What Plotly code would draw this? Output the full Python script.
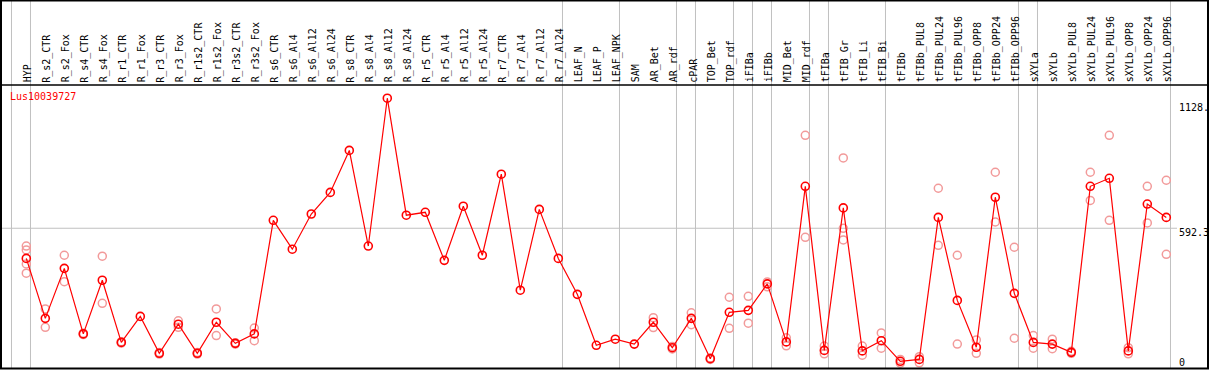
import plotly.graph_objects as go

categories = ["HYP", "R_s2_CTR", "R_s2_Fox", "R_s4_CTR", "R_s4_Fox", "R_r1_CTR", "R_r1_Fox",
              "R_r3_CTR", "R_r3_Fox", "R_r1s2_CTR", "R_r1s2_Fox", "R_r3s2_CTR", "R_r3s2_Fox",
              "R_s6_CTR", "R_s6_Al4", "R_s6_Al12", "R_s6_Al24", "R_s8_CTR", "R_s8_Al4", "R_s8_Al12",
              "R_s8_Al24", "R_r5_CTR", "R_r5_Al4", "R_r5_Al12", "R_r5_Al24", "R_r7_CTR", "R_r7_Al4",
              "R_r7_Al12", "R_r7_Al24", "LEAF_N", "LEAF_P", "LEAF_NPK", "SAM", "AR_Bet", "AR_rdf",
              "cPAR", "TOP_Bet", "TOP_rdf", "iFIBa", "iFIBb", "MID_Bet", "MID_rdf", "tFIBa", "tFIB_Gr",
              "tFIB_Li", "tFIB_Bi", "tFIBb", "tFIBb_PUL8", "tFIBb_PUL24", "tFIBb_PUL96", "tFIBb_OPP8",
              "tFIBb_OPP24", "tFIBb_OPP96", "sXYLa", "sXYLb", "sXYLb_PUL8", "sXYLb_PUL24",
              "sXYLb_PUL96", "sXYLb_OPP8", "sXYLb_OPP24", "sXYLb_OPP96"]

mean_values = [468, 221, 427, 157, 378, 122, 229, 77, 197, 77, 205, 118, 157,
               625, 506, 651, 740, 913, 519, 1128, 646, 658, 460, 683, 481, 815, 337, 670, 468,
               320, 110, 135, 115, 205, 100, 221, 55, 246, 254, 363, 124, 765, 89, 676, 87, 129,
               44, 52, 637, 295, 102, 720, 324, 122, 115, 81, 765, 798, 87, 692, 637]

replicates = [
    [519, 503, 445, 407], [260, 184], [481, 372], [160, 154], [477, 283], [125, 119], [],
    [80, 74], [211, 184], [80, 74], [260, 150], [121, 115], [181, 129],
    [], [], [], [], [], [], [], [], [], [], [], [], [], [], [], [],
    [], [], [], [], [224, 183], [105, 95], [244, 195], [58, 52], [308, 180], [312, 201],
    [371, 351], [141, 108], [975, 555], [107, 75], [882, 592, 544], [107, 69], [161, 98],
    [52, 36], [63, 38], [757, 522], [481, 115], [132, 77], [823, 618], [514, 139],
    [150, 98], [135, 96], [85, 77], [823, 707], [975, 625], [100, 75], [765, 614], [790, 485],
]

group_ends = [-1, 0, 28, 31, 34, 35, 37, 38, 39, 41, 42, 45, 52, 53, 60]
title_text = "Lus10039727"
scale_labels = ["1128.", "592.3", "0"]
mid_value = 592.3

W, H = 1209, 370
PITCH = 19.0
X0PX = 26.3
x_lo = -X0PX / PITCH
x_hi = x_lo + W / PITCH
K = 4.12  # value units per pixel
y_hi = 372 * K
y_lo = 2 * K

xs = list(range(len(categories)))

def py(p):  # pixel (from top) -> paper y
    return 1 - p / H

def px(p):
    return p / W

fig = go.Figure()

rx, ry = [], []
for i, reps in enumerate(replicates):
    for v in reps:
        rx.append(i)
        ry.append(v)

fig.add_trace(go.Scatter(x=rx, y=ry, mode="markers",
                         marker=dict(symbol="circle-open", size=8, color="#f29a9a",
                                     line=dict(width=1.5, color="#f29a9a")),
                         hoverinfo="skip", showlegend=False))
fig.add_trace(go.Scatter(x=xs, y=mean_values, mode="lines+markers",
                         line=dict(color="#ff0000", width=1.2),
                         marker=dict(symbol="circle-open", size=8, color="#ff0000",
                                     line=dict(width=1.6, color="#ff0000")),
                         text=categories, showlegend=False))

shapes = []
for g in group_ends:
    xv = g + 0.22
    shapes.append(dict(type="line", xref="x", yref="paper", x0=xv, x1=xv, y0=py(368), y1=1,
                       line=dict(color="#c0c0c0", width=1), layer="below"))
shapes.append(dict(type="line", xref="paper", yref="y", x0=px(1), x1=px(1177), y0=mid_value,
                   y1=mid_value, line=dict(color="#c0c0c0", width=1), layer="below"))
shapes.append(dict(type="line", xref="paper", yref="paper", x0=0, x1=1, y0=py(85), y1=py(85),
                   line=dict(color="black", width=1.5)))
shapes.append(dict(type="rect", xref="paper", yref="paper", x0=px(1), x1=px(1208),
                   y0=py(368.5), y1=py(0.5), line=dict(color="black", width=2)))

annotations = []
for i, c in enumerate(categories):
    annotations.append(dict(x=i + 1.5 / PITCH, y=py(84.5), xref="x", yref="paper", text=c,
                            textangle=-90, xanchor="center", yanchor="bottom", showarrow=False,
                            font=dict(family="DejaVu Sans Mono", size=10, color="black")))
annotations.append(dict(x=px(8), y=py(96.5), xref="paper", yref="paper", text=title_text,
                        xanchor="left", yanchor="middle", showarrow=False,
                        font=dict(family="DejaVu Sans Mono", size=10, color="#ff0000")))
for lab, cy in zip(scale_labels, [107.5, 232.0, 362.0]):
    annotations.append(dict(x=px(1177), y=py(cy), xref="paper", yref="paper", text=lab,
                            xanchor="left", yanchor="middle", showarrow=False,
                            font=dict(family="DejaVu Sans Mono", size=10, color="black")))

fig.update_layout(
    width=W, height=H, margin=dict(l=0, r=0, t=0, b=0),
    paper_bgcolor="white", plot_bgcolor="white",
    xaxis=dict(range=[x_lo, x_hi], visible=False, fixedrange=True),
    yaxis=dict(range=[y_lo, y_hi], visible=False, fixedrange=True),
    shapes=shapes, annotations=annotations,
)

fig.write_html("out.html", config={"displayModeBar": False},
               post_script="document.body.style.margin='0';document.body.style.overflow='hidden';")
